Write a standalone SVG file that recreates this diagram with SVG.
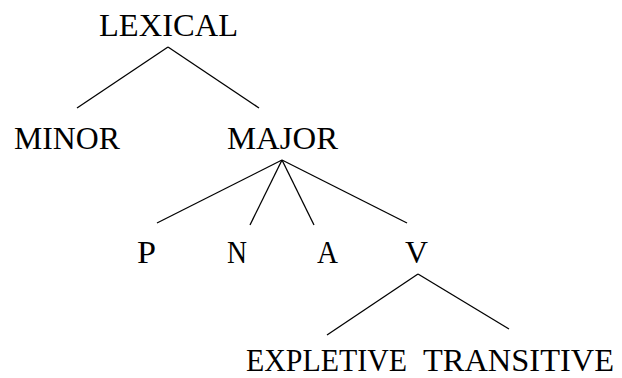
<svg xmlns="http://www.w3.org/2000/svg" width="622" height="378" viewBox="0 0 622 378">
<style>
text{font-family:"Liberation Serif","DejaVu Serif",serif;font-size:31px;fill:#000}
line{stroke:#000;stroke-width:1.3}
</style>
<rect width="622" height="378" fill="#fff"/>
<g id="connectors">
<line x1="168" y1="47" x2="77" y2="108"/>
<line x1="168" y1="47" x2="259" y2="108"/>
<line x1="282" y1="160" x2="157" y2="223"/>
<line x1="282" y1="160" x2="250" y2="225"/>
<line x1="282" y1="160" x2="314" y2="225"/>
<line x1="282" y1="160" x2="407" y2="223"/>
<line x1="418" y1="274" x2="327" y2="335"/>
<line x1="418" y1="274" x2="509" y2="329"/>
</g>
<g id="lexical"><text x="99" y="36" textLength="139" lengthAdjust="spacingAndGlyphs">LEXICAL</text></g>
<g id="minor"><text x="14" y="149" textLength="106" lengthAdjust="spacingAndGlyphs">MINOR</text></g>
<g id="major"><text x="227" y="149" textLength="111" lengthAdjust="spacingAndGlyphs">MAJOR</text></g>
<g id="p"><text x="137" y="263" textLength="19" lengthAdjust="spacingAndGlyphs">P</text></g>
<g id="n"><text x="227" y="263" textLength="20" lengthAdjust="spacingAndGlyphs">N</text></g>
<g id="a"><text x="317" y="263" textLength="21" lengthAdjust="spacingAndGlyphs">A</text></g>
<g id="v"><text x="405" y="263" textLength="23" lengthAdjust="spacingAndGlyphs">V</text></g>
<g id="expletive"><text x="246" y="371" textLength="161" lengthAdjust="spacingAndGlyphs">EXPLETIVE</text></g>
<g id="transitive"><text x="423" y="371" textLength="191" lengthAdjust="spacingAndGlyphs">TRANSITIVE</text></g>
</svg>
